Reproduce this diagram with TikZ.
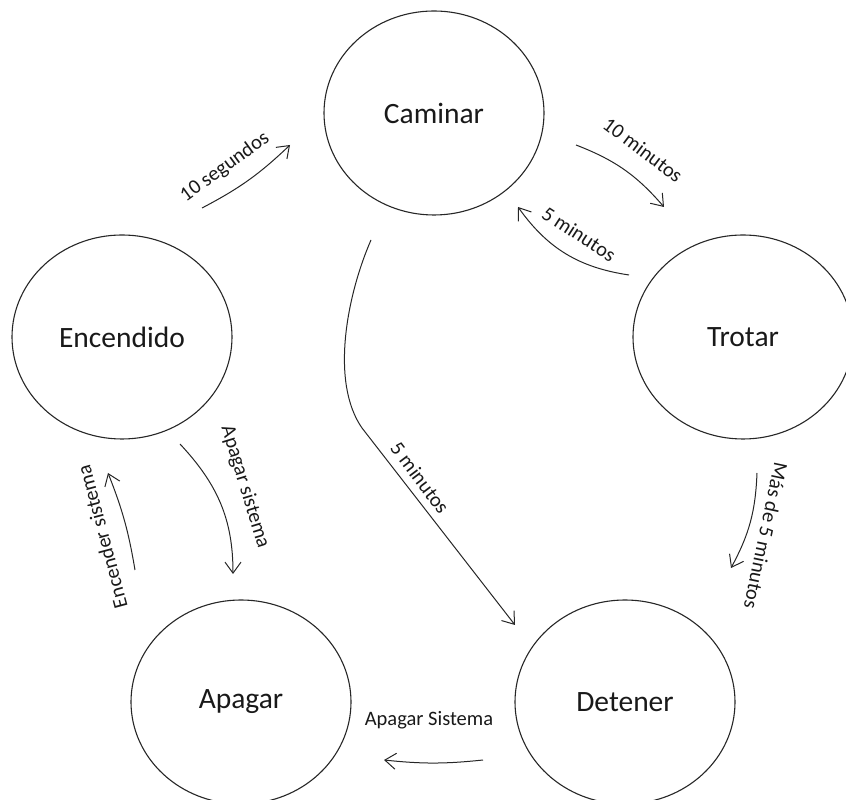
\documentclass[tikz,border=0pt]{standalone}
\usepackage{fontspec}
\setmainfont{Carlito}
\usepackage{tikz}
\usetikzlibrary{shapes.geometric}
\usetikzlibrary{arrows.meta}
\usetikzlibrary{positioning}

\begin{document}
\begin{tikzpicture}[x=1pt, y=1pt,
    state/.style={draw=black!85, line width=1.1pt, ellipse, minimum width=220pt,
      minimum height=204pt, inner sep=0pt, text=black!90, font=\fontsize{29.5}{35}\selectfont},
    flow/.style={draw=black!85, line width=1pt, -{Straight Barb[length=11pt,width=16pt]}},
    lbl/.style={inner sep=0pt, text=black!90, font=\fontsize{20.5}{24}\selectfont}]
      \clip (0,0) rectangle (846,800);

      % estados
      \node[state] (caminar) at (434,687) {Caminar};
      \node[state] (encendido) at (122,463) {Encendido};
      \node[state] (trotar) at (743,463) {Trotar};
      \node[state] (apagar) at (241,98) {Apagar};
      \node[state] (detener) at (625,98) {Detener};

      % extremos de las flechas
      \coordinate (segA) at (202,592);
      \coordinate (segB) at (290,655);
      \coordinate (diezA) at (576,655);
      \coordinate (diezB) at (664,593);
      \coordinate (cincoA) at (629,525);
      \coordinate (cincoB) at (518,593);
      \coordinate (largoA) at (371,560);
      \coordinate (largoM) at (362,372);
      \coordinate (largoB) at (515,175);
      \coordinate (masA) at (757,327);
      \coordinate (masB) at (731,232);
      \coordinate (offA) at (180,356);
      \coordinate (offB) at (233,226);
      \coordinate (onA) at (135,230);
      \coordinate (onB) at (108,327);
      \coordinate (finA) at (483,40);
      \coordinate (finB) at (384,40);

      \draw[flow] (segA) to[bend right=8] (segB);
      \draw[flow] (diezA) to[bend left=14] (diezB);
      \draw[flow] (cincoA) to[bend left=23] (cincoB);
      \draw[flow] (largoA) .. controls (347,505) and (330,418) .. (largoM) -- (largoB);
      \draw[flow] (masA) to[bend left=13] (masB);
      \draw[flow] (offA) to[out=-47, in=90] (offB);
      \draw[flow] (onA) to[bend right=6] (onB);
      \draw[flow] (finA) to[bend left=6] (finB);

      % etiquetas
      \node[lbl, rotate=36] (lseg) at (225,633) {10 segundos};
      \node[lbl, rotate=-37] (ldiez) at (643,650) {10 minutos};
      \node[lbl, rotate=-33] (lcinco) at (579,566) {5 minutos};
      \node[lbl, rotate=-53] (llargo) at (420,322) {5 minutos};
      \node[lbl, rotate=-102] (lmas) at (766,264) {Más de 5 minutos};
      \node[lbl, rotate=-73] (loff) at (245,313) {Apagar sistema};
      \node[lbl, rotate=105] (lon) at (102,263) {Encender sistema};
      \node[lbl] (lfin) at (429,80) {Apagar Sistema};
    \end{tikzpicture}
\end{document}
